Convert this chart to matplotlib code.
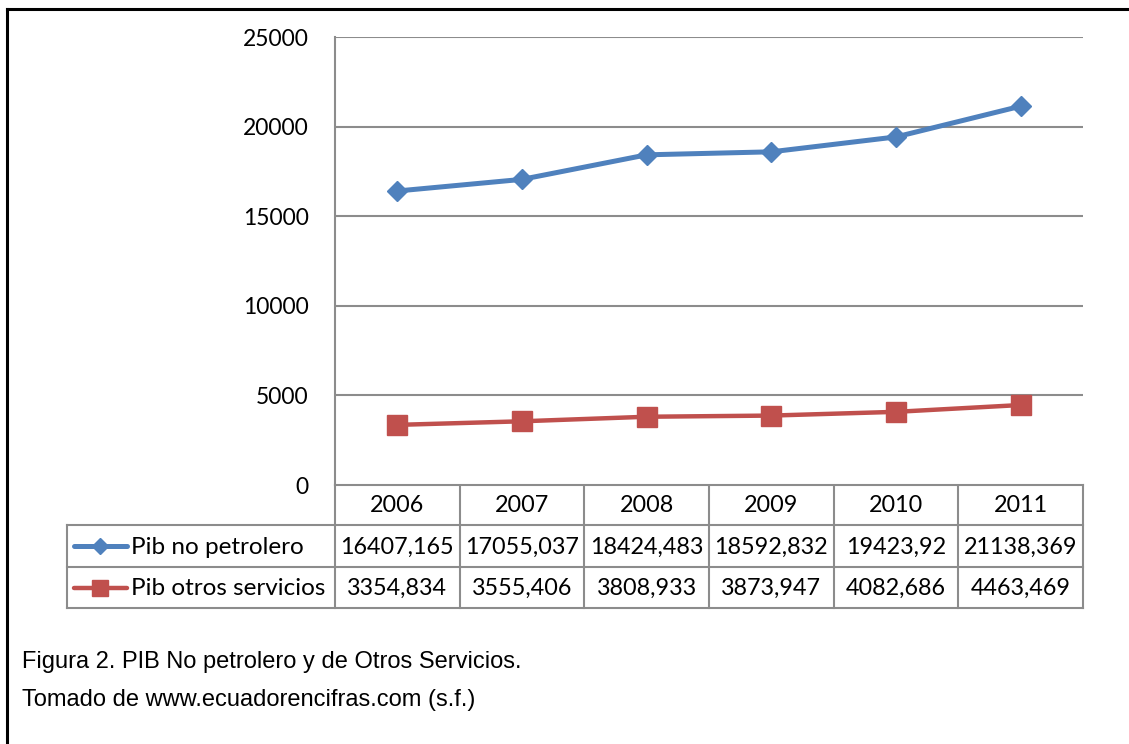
import matplotlib
matplotlib.use("Agg")
import matplotlib.pyplot as plt
from matplotlib.lines import Line2D

years = ['2006', '2007', '2008', '2009', '2010', '2011']
pib_no_petrolero = [16407.165, 17055.037, 18424.483, 18592.832, 19423.92, 21138.369]
pib_otros_servicios = [3354.834, 3555.406, 3808.933, 3873.947, 4082.686, 4463.469]
series_names = ['Pib no petrolero', 'Pib otros servicios']
y_ticks = [0, 5000, 10000, 15000, 20000, 25000]
caption_lines = ['Figura 2. PIB No petrolero y de Otros Servicios.',
                 'Tomado de www.ecuadorencifras.com (s.f.)']

W, H = 1129, 744
blue = '#4F81BD'
red = '#C0504D'
grid_col = '#8C8C8C'
table_font = 'Lato'
tfs = 17.5   # legend labels in the table
nfs = 16.8   # numbers in the table

fig = plt.figure(figsize=(W / 100, H / 100), dpi=100)

# plot area in pixel units
left, right, top, bottom = 335, 1083, 37, 485
ax = fig.add_axes([left / W, 1 - bottom / H, (right - left) / W, (bottom - top) / H])
x = list(range(len(years)))
ax.plot(x, pib_no_petrolero, color=blue, lw=3.6, marker='D', ms=10,
        mfc=blue, mec=blue, solid_capstyle='round')
ax.plot(x, pib_otros_servicios, color=red, lw=3.2, marker='s', ms=14,
        mfc=red, mec=red, solid_capstyle='round')
ax.set_xlim(-0.5, len(years) - 0.5)
ax.set_ylim(0, 25000)
ax.set_yticks(y_ticks)
ax.set_yticklabels([str(t) for t in y_ticks], fontfamily=table_font, fontsize=16.5)
ax.set_xticks([])
ax.tick_params(axis='y', length=0, pad=19)
ax.yaxis.grid(True, color=grid_col, lw=1.5)
ax.set_axisbelow(True)
for s in ['top', 'right', 'bottom']:
    ax.spines[s].set_visible(False)
ax.spines['left'].set_color(grid_col)
ax.spines['left'].set_linewidth(1.5)

# overlay in pixel coords for the data table, frame and caption
ov = fig.add_axes([0, 0, 1, 1], zorder=-1)
ov.set_xlim(0, W)
ov.set_ylim(H, 0)
ov.axis('off')

def col_px(v):
    return ax.transData.transform((v, 0))[0]

edges = [col_px(i - 0.5) for i in range(len(years) + 1)]
centers = [col_px(i) for i in x]
row_y = [485, 525, 567, 608]
tab_left = 67

ov.plot([edges[0], edges[-1]], [row_y[0]] * 2, color=grid_col, lw=1.5)
for yy in row_y[1:]:
    ov.plot([tab_left, edges[-1]], [yy, yy], color=grid_col, lw=1.5)
ov.plot([tab_left, tab_left], [row_y[1], row_y[3]], color=grid_col, lw=1.5)
for e in edges:
    ov.plot([e, e], [row_y[0], row_y[3]], color=grid_col, lw=1.5)

for c, yr in zip(centers, years):
    ov.text(c, (row_y[0] + row_y[1]) / 2 + 1, yr, ha='center', va='center',
            fontsize=nfs, fontfamily=table_font)

rows = [pib_no_petrolero, pib_otros_servicios]
styles = [(blue, 'D', 8, 3.6), (red, 's', 12, 3.2)]
for r, (vals, name, st) in enumerate(zip(rows, series_names, styles)):
    ym = (row_y[r + 1] + row_y[r + 2]) / 2
    for c, v in zip(centers, vals):
        ov.text(c, ym + 1, str(v).replace('.', ','), ha='center', va='center',
                fontsize=nfs, fontfamily=table_font)
    col, mk, ms, lw = st
    ov.add_line(Line2D([74, 100, 127], [ym, ym, ym], color=col, lw=lw,
                       marker=mk, markevery=[1], ms=ms, mfc=col, mec=col,
                       solid_capstyle='round'))
    ov.text(131, ym + 1, name, ha='left', va='center', fontsize=tfs,
            fontfamily=table_font)

# outer frame (only top and left edges are visible)
ov.plot([7, W + 5], [9, 9], color='black', lw=2.2, clip_on=False)
ov.plot([7, 7], [9, H + 5], color='black', lw=2.2, clip_on=False)

# caption
ov.text(22, 668, caption_lines[0], ha='left', va='baseline', fontsize=17,
        fontfamily='Liberation Sans')
ov.text(22, 706, caption_lines[1], ha='left', va='baseline', fontsize=17,
        fontfamily='Liberation Sans')

fig.savefig('out.png', dpi=100, facecolor='white')
